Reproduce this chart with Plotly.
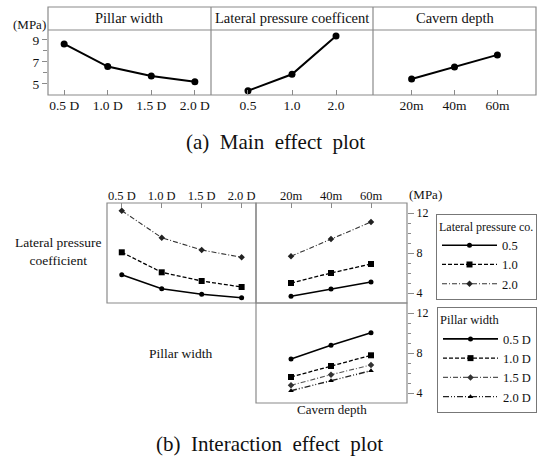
import plotly.graph_objects as go

# Factor levels
pillar_levels = ["0.5 D", "1.0 D", "1.5 D", "2.0 D"]
lateral_levels = ["0.5", "1.0", "2.0"]
depth_levels = ["20m", "40m", "60m"]

# Main effects (MPa)
main_pillar = [8.64, 6.58, 5.73, 5.21]
main_lateral = [4.39, 5.88, 9.36]
main_depth = [5.45, 6.55, 7.64]

# Interaction: lateral pressure coefficient x pillar width (MPa)
lat05_by_pillar = [5.83, 4.43, 3.87, 3.53]
lat10_by_pillar = [8.07, 6.07, 5.20, 4.60]
lat20_by_pillar = [12.23, 9.53, 8.30, 7.57]

# Interaction: lateral pressure coefficient x cavern depth (MPa)
lat05_by_depth = [3.67, 4.40, 5.10]
lat10_by_depth = [5.00, 6.00, 6.90]
lat20_by_depth = [7.67, 9.40, 11.10]

# Interaction: pillar width x cavern depth (MPa)
pw05_by_depth = [7.40, 8.77, 10.03]
pw10_by_depth = [5.60, 6.70, 7.77]
pw15_by_depth = [4.77, 5.83, 6.80]
pw20_by_depth = [4.23, 5.23, 6.23]

W, H = 538, 458
FONT = "Liberation Serif"
FRAME = "#8a8a8a"
INK = "#111111"


def fx(px):
    return px / W


def fy(py):
    return 1 - py / H


fig = go.Figure()

# ---- (a) main effect plot ----
for xa, levels, vals in (("x", pillar_levels, main_pillar),
                         ("x2", lateral_levels, main_lateral),
                         ("x3", depth_levels, main_depth)):
    fig.add_trace(go.Scatter(
        x=levels, y=vals, xaxis=xa, yaxis="y", mode="lines+markers",
        line=dict(color="black", width=2),
        marker=dict(symbol="circle", size=7, color="black"),
        showlegend=False, hoverinfo="x+y"))

# ---- (b) interaction effect plot ----
lat_styles = [
    ("0.5", dict(color="black", width=1.6, dash="solid"), dict(symbol="circle", size=5, color="black")),
    ("1.0", dict(color="black", width=1.3, dash="4px,2px"), dict(symbol="square", size=6, color="black")),
    ("2.0", dict(color="#333333", width=1.1, dash="5px,2px,1px,2px"), dict(symbol="diamond", size=5, color="#222222")),
]
lat_by_pillar = [lat05_by_pillar, lat10_by_pillar, lat20_by_pillar]
lat_by_depth = [lat05_by_depth, lat10_by_depth, lat20_by_depth]

for (name, ln, mk), yp, yd in zip(lat_styles, lat_by_pillar, lat_by_depth):
    fig.add_trace(go.Scatter(
        x=pillar_levels, y=yp, xaxis="x4", yaxis="y4", mode="lines+markers",
        line=ln, marker=mk, name=name, legend="legend", legendgroup="lat" + name,
        showlegend=True))
    fig.add_trace(go.Scatter(
        x=depth_levels, y=yd, xaxis="x5", yaxis="y5", mode="lines+markers",
        line=ln, marker=mk, name=name, legend="legend", legendgroup="lat" + name,
        showlegend=False))

pw_styles = [
    ("0.5 D", dict(color="black", width=1.6, dash="solid"), dict(symbol="circle", size=5, color="black")),
    ("1.0 D", dict(color="black", width=1.3, dash="4px,2px"), dict(symbol="square", size=6, color="black")),
    ("1.5 D", dict(color="#555555", width=1.1, dash="5px,2px,1px,2px"), dict(symbol="diamond", size=5, color="#333333")),
    ("2.0 D", dict(color="#222222", width=1.4, dash="6px,2px,1px,2px,1px,2px"), dict(symbol="triangle-up", size=5, color="black")),
]
pw_by_depth = [pw05_by_depth, pw10_by_depth, pw15_by_depth, pw20_by_depth]
for (name, ln, mk), yd in zip(pw_styles, pw_by_depth):
    fig.add_trace(go.Scatter(
        x=depth_levels, y=yd, xaxis="x6", yaxis="y6", mode="lines+markers",
        line=ln, marker=mk, name=name, legend="legend2", showlegend=True))

tickfont_a = dict(family=FONT, size=13.5, color=INK)
tickfont_b = dict(family=FONT, size=12.5, color=INK)
tickfont_y = dict(family=FONT, size=12, color=INK)

xa_common = dict(type="category", showgrid=False, zeroline=False, showline=False,
                 ticks="inside", ticklen=5, tickcolor=FRAME, tickwidth=1,
                 fixedrange=True)

layout = dict(
    width=W, height=H, margin=dict(l=0, r=0, t=0, b=0),
    paper_bgcolor="white", plot_bgcolor="rgba(0,0,0,0)",
    font=dict(family=FONT, color=INK),
    # top row panels
    xaxis=dict(xa_common, domain=[fx(48), fx(211)], range=[-0.37, 3.37], anchor="y",
               tickfont=tickfont_a),
    xaxis2=dict(xa_common, domain=[fx(211), fx(373)], range=[-0.84, 2.84], anchor="y",
                tickfont=tickfont_a),
    xaxis3=dict(xa_common, domain=[fx(373), fx(536)], range=[-0.9, 2.9], anchor="y",
                tickfont=tickfont_a),
    yaxis=dict(domain=[fy(95), fy(30)], range=[4.0, 9.9], anchor="x",
               showgrid=False, zeroline=False, showline=False,
               tickmode="array", tickvals=[5, 7, 9], ticks="outside", ticklen=5,
               tickcolor=FRAME, tickfont=tickfont_a,
               minor=dict(tickmode="array", tickvals=[6, 8], ticks="outside",
                          ticklen=4, tickcolor=FRAME),
               fixedrange=True),
    # interaction panels
    xaxis4=dict(xa_common, domain=[fx(107), fx(256)], range=[-0.37, 3.36], anchor="y4",
                side="top", tickfont=tickfont_b),
    yaxis4=dict(domain=[fy(303), fy(203)], range=[3, 13], anchor="x4",
                showgrid=False, zeroline=False, showline=False, showticklabels=False,
                ticks="", fixedrange=True),
    xaxis5=dict(xa_common, domain=[fx(256), fx(407)], range=[-0.875, 2.9], anchor="y5",
                side="top", tickfont=tickfont_b),
    yaxis5=dict(domain=[fy(303), fy(203)], range=[3, 13], anchor="x5", side="right",
                showgrid=False, zeroline=False, showline=False,
                tickmode="array", tickvals=[4, 8, 12], ticks="outside", ticklen=6,
                tickcolor=FRAME, tickfont=tickfont_y,
                minor=dict(tickmode="array", tickvals=[5, 6, 7, 9, 10, 11],
                           ticks="outside", ticklen=3, tickcolor=FRAME),
                fixedrange=True),
    xaxis6=dict(xa_common, domain=[fx(256), fx(407)], range=[-0.875, 2.9], anchor="y6",
                showticklabels=False, ticks=""),
    yaxis6=dict(domain=[fy(403), fy(303)], range=[3, 13], anchor="x6", side="right",
                showgrid=False, zeroline=False, showline=False,
                tickmode="array", tickvals=[4, 8, 12], ticks="outside", ticklen=6,
                tickcolor=FRAME, tickfont=tickfont_y,
                minor=dict(tickmode="array", tickvals=[5, 6, 7, 9, 10, 11],
                           ticks="outside", ticklen=3, tickcolor=FRAME),
                fixedrange=True),
    legend=dict(x=fx(537), y=fy(214), xanchor="right", yanchor="top",
                bordercolor="#777", borderwidth=1, bgcolor="white",
                title=dict(text="Lateral pressure co.", font=dict(family=FONT, size=12, color=INK)),
                font=dict(family=FONT, size=12.5, color=INK),
                itemwidth=55, tracegroupgap=0),
    legend2=dict(x=fx(537), y=fy(307), xanchor="right", yanchor="top",
                 bordercolor="#777", borderwidth=1, bgcolor="white",
                 title=dict(text="Pillar width", font=dict(family=FONT, size=12.5, color=INK)),
                 font=dict(family=FONT, size=12.5, color=INK),
                 itemwidth=55, tracegroupgap=0),
    showlegend=True,
)
fig.update_layout(**layout)

# Panel frames
def rect(x0, y0, x1, y1):
    return dict(type="rect", xref="paper", yref="paper",
                x0=fx(x0), x1=fx(x1), y0=fy(y1), y1=fy(y0),
                line=dict(color=FRAME, width=1.2), fillcolor="rgba(0,0,0,0)", layer="below")


def hline(x0, x1, y):
    return dict(type="line", xref="paper", yref="paper", x0=fx(x0), x1=fx(x1),
                y0=fy(y), y1=fy(y), line=dict(color=FRAME, width=1.2))


def vline(x, y0, y1):
    return dict(type="line", xref="paper", yref="paper", x0=fx(x), x1=fx(x),
                y0=fy(y0), y1=fy(y1), line=dict(color=FRAME, width=1.2))


shapes = [
    rect(48, 7, 536, 95), hline(48, 536, 30), vline(211, 7, 95), vline(373, 7, 95),
    rect(107, 203, 256, 303), rect(256, 203, 407, 303), rect(256, 303, 407, 403),
]
fig.update_layout(shapes=shapes)


def label(text, x, y, size, xanchor="center"):
    fig.add_annotation(text=text, x=fx(x), y=fy(y), xref="paper", yref="paper",
                       showarrow=False, xanchor=xanchor, yanchor="middle",
                       font=dict(family=FONT, size=size, color=INK))


NB = "\u00a0"
label("(MPa)", 29, 24, 13)
label("Pillar width", 129.5, 18.5, 14.5)
label("Lateral pressure coefficent", 292, 18.5, 14.5)
label("Cavern depth", 454.5, 18.5, 14.5)
label("(a)" + NB * 2 + "Main" + NB * 2 + "effect" + NB * 2 + "plot", 275, 142, 21)

label("(MPa)", 425, 194, 13)
label("Lateral pressure<br>coefficient", 58, 251, 13.5)
label("Pillar width", 181, 353, 13.5)
label("Cavern depth", 332, 409, 13)
label("(b)" + NB * 2 + "Interaction" + NB * 2 + "effect" + NB * 2 + "plot", 269, 444, 21)

fig.write_html("out.html")
